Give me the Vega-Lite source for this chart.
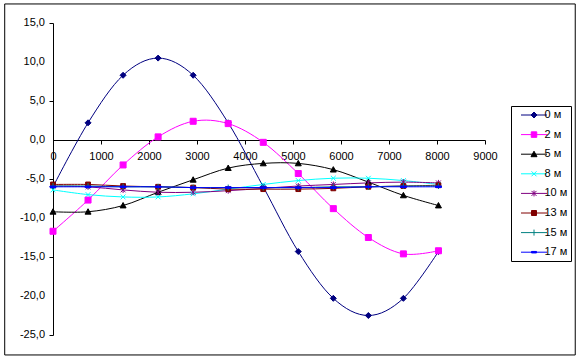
{
  "$schema": "https://vega.github.io/schema/vega-lite/v6.json",
  "width": 432,
  "height": 312,
  "autosize": {"type": "none"},
  "padding": {"left": 53, "top": 23, "right": 97, "bottom": 26},
  "background": "white",
  "config": {
    "locale": {"number": {"decimal": ",", "thousands": "", "grouping": [3], "currency": ["", ""], "minus": "-"}},
    "view": {"stroke": null},
    "font": "Liberation Sans",
    "axis": {
      "labelFont": "Liberation Sans",
      "labelFontSize": 11,
      "labelColor": "black",
      "domainColor": "black",
      "tickColor": "black",
      "tickSize": 4,
      "grid": false,
      "title": null,
      "labelFlush": false,
      "labelOverlap": false
    },
    "legend": {
      "labelFont": "Liberation Sans",
      "labelFontSize": 11,
      "labelColor": "black"
    },
    "point": {"filled": true, "size": 36, "strokeWidth": 1, "opacity": 1}
  },
  "datasets": {
    "yticks": [
      {"tick": -25, "label": "-25,0"}, {"tick": -20, "label": "-20,0"}, {"tick": -15, "label": "-15,0"}, {"tick": -10, "label": "-10,0"}, {"tick": -5, "label": "-5,0"}, {"tick": 0, "label": "0,0"}, {"tick": 5, "label": "5,0"}, {"tick": 10, "label": "10,0"}, {"tick": 15, "label": "15,0"}
    ],
    "temps": [
      {"t": 0, "series": "0 м", "v": -6.0}, {"t": 730, "series": "0 м", "v": 2.2}, {"t": 1460, "series": "0 м", "v": 8.3}, {"t": 2190, "series": "0 м", "v": 10.5}, {"t": 2920, "series": "0 м", "v": 8.3}, {"t": 3650, "series": "0 м", "v": 2.2}, {"t": 4380, "series": "0 м", "v": -6.0}, {"t": 5110, "series": "0 м", "v": -14.3}, {"t": 5840, "series": "0 м", "v": -20.3}, {"t": 6570, "series": "0 м", "v": -22.5}, {"t": 7300, "series": "0 м", "v": -20.3}, {"t": 8030, "series": "0 м", "v": -14.3},
      {"t": 0, "series": "2 м", "v": -11.7}, {"t": 730, "series": "2 м", "v": -7.7}, {"t": 1460, "series": "2 м", "v": -3.2}, {"t": 2190, "series": "2 м", "v": 0.4}, {"t": 2920, "series": "2 м", "v": 2.4}, {"t": 3650, "series": "2 м", "v": 2.1}, {"t": 4380, "series": "2 м", "v": -0.3}, {"t": 5110, "series": "2 м", "v": -4.3}, {"t": 5840, "series": "2 м", "v": -8.8}, {"t": 6570, "series": "2 м", "v": -12.5}, {"t": 7300, "series": "2 м", "v": -14.6}, {"t": 8030, "series": "2 м", "v": -14.2},
      {"t": 0, "series": "5 м", "v": -9.2}, {"t": 730, "series": "5 м", "v": -9.2}, {"t": 1460, "series": "5 м", "v": -8.4}, {"t": 2190, "series": "5 м", "v": -6.7}, {"t": 2920, "series": "5 м", "v": -5.1}, {"t": 3650, "series": "5 м", "v": -3.6}, {"t": 4380, "series": "5 м", "v": -3.0}, {"t": 5110, "series": "5 м", "v": -3.0}, {"t": 5840, "series": "5 м", "v": -3.8}, {"t": 6570, "series": "5 м", "v": -5.4}, {"t": 7300, "series": "5 м", "v": -7.1}, {"t": 8030, "series": "5 м", "v": -8.4},
      {"t": 0, "series": "8 м", "v": -6.4}, {"t": 730, "series": "8 м", "v": -7.0}, {"t": 1460, "series": "8 м", "v": -7.3}, {"t": 2190, "series": "8 м", "v": -7.3}, {"t": 2920, "series": "8 м", "v": -6.9}, {"t": 3650, "series": "8 м", "v": -6.3}, {"t": 4380, "series": "8 м", "v": -5.7}, {"t": 5110, "series": "8 м", "v": -5.2}, {"t": 5840, "series": "8 м", "v": -4.9}, {"t": 6570, "series": "8 м", "v": -4.9}, {"t": 7300, "series": "8 м", "v": -5.2}, {"t": 8030, "series": "8 м", "v": -5.7},
      {"t": 0, "series": "10 м", "v": -5.9}, {"t": 730, "series": "10 м", "v": -6.0}, {"t": 1460, "series": "10 м", "v": -6.4}, {"t": 2190, "series": "10 м", "v": -6.7}, {"t": 2920, "series": "10 м", "v": -6.7}, {"t": 3650, "series": "10 м", "v": -6.5}, {"t": 4380, "series": "10 м", "v": -6.2}, {"t": 5110, "series": "10 м", "v": -5.9}, {"t": 5840, "series": "10 м", "v": -5.7}, {"t": 6570, "series": "10 м", "v": -5.5}, {"t": 7300, "series": "10 м", "v": -5.4}, {"t": 8030, "series": "10 м", "v": -5.5},
      {"t": 0, "series": "13 м", "v": -5.7}, {"t": 730, "series": "13 м", "v": -5.7}, {"t": 1460, "series": "13 м", "v": -5.9}, {"t": 2190, "series": "13 м", "v": -6.0}, {"t": 2920, "series": "13 м", "v": -6.1}, {"t": 3650, "series": "13 м", "v": -6.3}, {"t": 4380, "series": "13 м", "v": -6.3}, {"t": 5110, "series": "13 м", "v": -6.3}, {"t": 5840, "series": "13 м", "v": -6.2}, {"t": 6570, "series": "13 м", "v": -6.0}, {"t": 7300, "series": "13 м", "v": -5.9}, {"t": 8030, "series": "13 м", "v": -5.8},
      {"t": 0, "series": "15 м", "v": -5.9}, {"t": 730, "series": "15 м", "v": -5.9}, {"t": 1460, "series": "15 м", "v": -6.0}, {"t": 2190, "series": "15 м", "v": -6.0}, {"t": 2920, "series": "15 м", "v": -6.1}, {"t": 3650, "series": "15 м", "v": -6.1}, {"t": 4380, "series": "15 м", "v": -6.1}, {"t": 5110, "series": "15 м", "v": -6.1}, {"t": 5840, "series": "15 м", "v": -6.0}, {"t": 6570, "series": "15 м", "v": -6.0}, {"t": 7300, "series": "15 м", "v": -5.9}, {"t": 8030, "series": "15 м", "v": -5.9},
      {"t": 0, "series": "17 м", "v": -6.0}, {"t": 730, "series": "17 м", "v": -6.0}, {"t": 1460, "series": "17 м", "v": -6.0}, {"t": 2190, "series": "17 м", "v": -6.0}, {"t": 2920, "series": "17 м", "v": -6.1}, {"t": 3650, "series": "17 м", "v": -6.1}, {"t": 4380, "series": "17 м", "v": -6.1}, {"t": 5110, "series": "17 м", "v": -6.1}, {"t": 5840, "series": "17 м", "v": -6.1}, {"t": 6570, "series": "17 м", "v": -6.0}, {"t": 7300, "series": "17 м", "v": -6.0}, {"t": 8030, "series": "17 м", "v": -6.0}
    ]
  },
  "layer": [
    {
      "data": {"values": [{}]},
      "mark": {"type": "rect", "fill": "transparent", "stroke": "black", "strokeWidth": 1, "clip": false},
      "encoding": {
        "x": {"datum": -1006, "type": "quantitative", "scale": {"domain": [0, 9000], "nice": false, "zero": false},
          "axis": {"values": [0, 1000, 2000, 3000, 4000, 5000, 6000, 7000, 8000, 9000], "format": "d", "offset": -195, "labelPadding": 6, "labelOverlap": false}},
        "x2": {"datum": 10880},
        "y": {"datum": 17.44, "type": "quantitative", "scale": {"domain": [-25, 15], "nice": false, "zero": false},
          "axis": {"values": [-25, -20, -15, -10, -5, 0, 5, 10, 15], "labels": false}},
        "y2": {"datum": -27.56}
      }
    },
    {
      "data": {"name": "yticks"},
      "mark": {"type": "text", "align": "right", "baseline": "middle", "dx": -8, "font": "Liberation Sans", "fontSize": 11, "color": "black", "clip": false},
      "encoding": {
        "x": {"datum": 0, "type": "quantitative"},
        "y": {"field": "tick", "type": "quantitative"},
        "text": {"field": "label"}
      }
    },
    {
      "data": {"name": "temps"},
      "mark": {"type": "line", "interpolate": "cardinal", "strokeWidth": 1},
      "encoding": {
        "x": {
          "field": "t", "type": "quantitative",
          "scale": {"domain": [0, 9000], "nice": false, "zero": false},
          "axis": {"values": [0, 1000, 2000, 3000, 4000, 5000, 6000, 7000, 8000, 9000], "format": "d", "offset": -195, "labelPadding": 6, "labelOverlap": false}
        },
        "y": {
          "field": "v", "type": "quantitative",
          "scale": {"domain": [-25, 15], "nice": false, "zero": false},
          "axis": {"values": [-25, -20, -15, -10, -5, 0, 5, 10, 15], "labels": false}
        },
        "color": {
          "field": "series", "type": "nominal",
          "scale": {
            "domain": ["0 м", "2 м", "5 м", "8 м", "10 м", "13 м", "15 м", "17 м"],
            "range": ["#000080", "#FF00FF", "#000000", "#00FFFF", "#800080", "#800000", "#008080", "#0000FF"]
          },
          "legend": {
            "title": null,
            "orient": "none",
            "legendX": 458,
            "legendY": 83,
            "padding": 3.5,
            "strokeColor": "black",
            "fillColor": "white",
            "symbolSize": 100,
            "rowPadding": 7.6,
            "symbolOffset": 8,
            "labelOffset": 11,
            "symbolType": "stroke",
            "symbolStrokeWidth": 1,
            "encode": {
              "symbols": {
                "update": {
                  "shape": {"signal": "['M-1.4,0H3.8M1.2,-0.6L1.8,0L1.2,0.6L0.6,0Z', 'M-1.4,0H3.8M0.65,-0.55H1.75V0.55H0.65Z', 'M-1.4,0H3.8M1.2,-0.6L1.8,0.5H0.6Z', 'M-1.4,0H3.8M0.7,-0.5L1.7,0.5M0.7,0.5L1.7,-0.5', 'M-1.4,0H3.8M0.7,-0.5L1.7,0.5M0.7,0.5L1.7,-0.5M1.2,-0.6V0.6', 'M-1.4,0H3.8M0.7,-0.5H1.7V0.5H0.7Z', 'M-1.4,0H3.8M1.2,-0.6V0.6', 'M-1.4,0H3.8M0.7,-0.15H1.7V0.15H0.7Z'][datum.index]"},
                  "fill": {"scale": "color", "field": "value"},
                  "stroke": {"scale": "color", "field": "value"}
                }
              }
            }
          }
        }
      }
    },
    {"data": {"name": "temps"}, "transform": [{"filter": "datum.series === '0 м'"}], "mark": {"type": "point", "shape": "M0,-1L1,0L0,1L-1,0Z", "color": "#000080", "stroke": "#000080"}, "encoding": {"x": {"field": "t", "type": "quantitative"}, "y": {"field": "v", "type": "quantitative"}}},
    {"data": {"name": "temps"}, "transform": [{"filter": "datum.series === '2 м'"}], "mark": {"type": "point", "shape": "M-1,-1H1V1H-1Z", "color": "#FF00FF", "stroke": "#FF00FF"}, "encoding": {"x": {"field": "t", "type": "quantitative"}, "y": {"field": "v", "type": "quantitative"}}},
    {"data": {"name": "temps"}, "transform": [{"filter": "datum.series === '5 м'"}], "mark": {"type": "point", "shape": "M0,-1L1,0.8H-1Z", "color": "#000000", "stroke": "#000000"}, "encoding": {"x": {"field": "t", "type": "quantitative"}, "y": {"field": "v", "type": "quantitative"}}},
    {"data": {"name": "temps"}, "transform": [{"filter": "datum.series === '8 м'"}], "mark": {"type": "point", "shape": "M-0.8,-0.8L0.8,0.8M-0.8,0.8L0.8,-0.8", "color": "#00FFFF", "stroke": "#00FFFF"}, "encoding": {"x": {"field": "t", "type": "quantitative"}, "y": {"field": "v", "type": "quantitative"}}},
    {"data": {"name": "temps"}, "transform": [{"filter": "datum.series === '10 м'"}], "mark": {"type": "point", "shape": "M-0.8,-0.8L0.8,0.8M-0.8,0.8L0.8,-0.8M0,-1V1", "color": "#800080", "stroke": "#800080"}, "encoding": {"x": {"field": "t", "type": "quantitative"}, "y": {"field": "v", "type": "quantitative"}}},
    {"data": {"name": "temps"}, "transform": [{"filter": "datum.series === '13 м'"}], "mark": {"type": "point", "shape": "M-0.8,-0.8H0.8V0.8H-0.8Z", "color": "#800000", "stroke": "#800000"}, "encoding": {"x": {"field": "t", "type": "quantitative"}, "y": {"field": "v", "type": "quantitative"}}},
    {"data": {"name": "temps"}, "transform": [{"filter": "datum.series === '15 м'"}], "mark": {"type": "point", "shape": "M-1,0H1M0,-1V1", "color": "#008080", "stroke": "#008080"}, "encoding": {"x": {"field": "t", "type": "quantitative"}, "y": {"field": "v", "type": "quantitative"}}},
    {"data": {"name": "temps"}, "transform": [{"filter": "datum.series === '17 м'"}], "mark": {"type": "point", "shape": "M-1,-0.25H1V0.25H-1Z", "color": "#0000FF", "stroke": "#0000FF"}, "encoding": {"x": {"field": "t", "type": "quantitative"}, "y": {"field": "v", "type": "quantitative"}}}
  ]
}
